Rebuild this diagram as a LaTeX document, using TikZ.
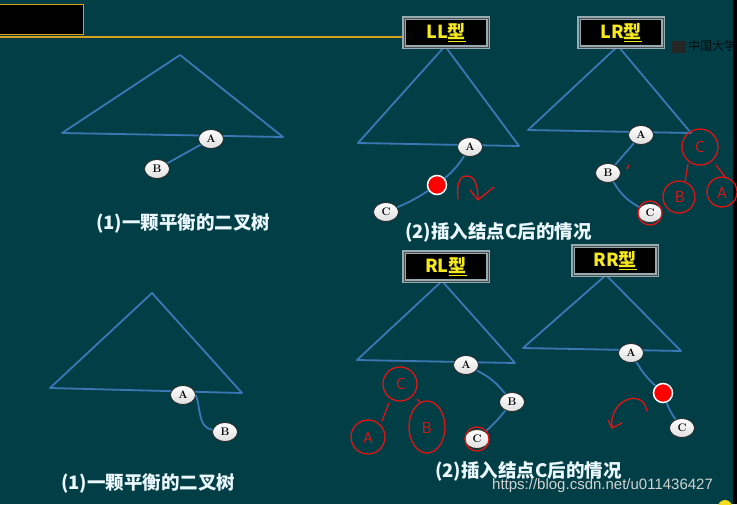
\documentclass[tikz,border=0pt]{standalone}
\usepackage{fontspec}
\newfontfamily\cjk{Noto Sans CJK SC}
\newfontfamily\wm{Liberation Sans}
\usetikzlibrary{shapes.geometric,arrows.meta}
\definecolor{bg}{RGB}{2,62,70}
\definecolor{tri}{RGB}{58,120,181}
\definecolor{gold}{RGB}{214,160,30}
\definecolor{ylw}{RGB}{245,232,30}
\definecolor{scrib}{RGB}{225,20,20}
\definecolor{boxedge}{RGB}{150,170,178}
\tikzset{
  trishape/.style={draw=tri, line width=1.8pt, line join=round},
  edge/.style={draw=tri, line width=1.8pt},
  vnode/.style={ellipse, draw=gray!30!black, line width=0.8pt, inner sep=0pt,
    minimum width=25pt, minimum height=19pt, top color=white, bottom color=gray!25,
    font=\bfseries\fontsize{11}{11}\selectfont},
  reddot/.style={circle, fill=red, draw=white, line width=1.5pt, minimum size=19pt, inner sep=0pt},
  typebox/.style={fill=black, draw=boxedge, line width=2pt, double=black!70, double distance=0.6pt,
    minimum width=84pt, minimum height=29pt, inner sep=0pt,
    text=ylw, font=\cjk\bfseries\fontsize{18}{18}\selectfont},
  caption/.style={text=white!92!cyan, font=\cjk\bfseries\fontsize{18.5}{19}\selectfont, inner sep=0pt},
  scribble/.style={draw=scrib, line width=1.3pt, line cap=round, line join=round},
  scribtext/.style={text=scrib, font=\sffamily\fontsize{16}{16}\selectfont, inner sep=0pt},
}
\begin{document}
\begin{tikzpicture}[x=1pt,y=-1pt]
\fill[bg] (0,0) rectangle (737,504);
\useasboundingbox (0,0) rectangle (737,504);
\fill[black] (733,0) rectangle (737,504);
% header
\filldraw[fill=black, draw=gold, line width=1pt] (-2,4) rectangle (83,34);
\draw[gold, line width=1.3pt] (0,37) -- (404,37);
\fill[black!85] (672,41) rectangle (686,53);
\node[text=black!80!bg, font=\cjk\fontsize{12}{12}\selectfont, anchor=west, inner sep=0pt] (zg) at (688,46) {中国大学};

% triangles
\draw[trishape] (180,55) -- (62,133) -- (283,137) -- cycle;
\draw[trishape] (445,46) -- (358,143) -- (519,146) -- cycle;
\draw[trishape] (618,46) -- (528,130) -- (691,133) -- cycle;
\draw[trishape] (152,293) -- (50,388) -- (242,393) -- cycle;
\draw[trishape] (442,281) -- (357,360) -- (515,363) -- cycle;
\draw[trishape] (606,275) -- (523,348) -- (681,351) -- cycle;

% type boxes
\node[typebox] (LL) at (446,32.5) {LL\underline{型}};
\node[typebox] (LR) at (621,32.5) {LR\underline{型}};
\node[typebox] (RL) at (446,266.5) {RL\underline{型}};
\node[typebox] (RR) at (615,260.5) {RR\underline{型}};

% tree 1
\node[vnode] (A1) at (211,139) {A};
\node[vnode] (B1) at (157,169) {B};
\draw[edge] (A1) -- (B1);
% LL
\node[vnode] (A2) at (470,147) {A};
\node[reddot] (R2) at (437,185) {};
\node[vnode] (C2) at (386,212) {C};
\draw[edge] (A2) to[bend left=8] (R2);
\draw[edge] (R2) to[bend left=5] (C2);
% LR
\node[vnode] (A3) at (641,135) {A};
\node[vnode] (B3) at (608,173) {B};
\node[vnode] (C3) at (650,213) {C};
\draw[edge] (A3) -- (B3);
\draw[edge] (B3) to[bend right=15] (C3);
% tree 4
\node[vnode] (A4) at (183,395) {A};
\node[vnode] (B4) at (225,432) {B};
\draw[edge] (A4.east) to[out=-70,in=170] (B4);
% RL
\node[vnode] (A5) at (466,365) {A};
\node[vnode] (B5) at (512,402) {B};
\node[vnode] (C5) at (477,439) {C};
\draw[edge] (A5) to[bend left=12] (B5);
\draw[edge] (B5) to[bend left=5] (C5);
% RR
\node[vnode] (A6) at (631,353) {A};
\node[reddot] (R6) at (663,393) {};
\node[vnode] (C6) at (682,428) {C};
\draw[edge] (A6) to[bend right=8] (R6);
\draw[edge] (R6) to[bend right=8] (C6);

% captions
\node[caption, anchor=west] (cap1) at (96,223) {(1)一颗平衡的二叉树};
\node[caption, anchor=west] (cap2) at (405,232) {(2)插入结点C后的情况};
\node[caption, anchor=west] (cap3) at (61,483) {(1)一颗平衡的二叉树};
\node[caption, anchor=west] (cap4) at (435,471) {(2)插入结点C后的情况};
\node[text=gray!35, font=\wm\fontsize{15}{15}\selectfont, anchor=west, inner sep=0pt] (wmk) at (492,486) {https://blog.csdn.net/u011436427};

% red scribbles
% LL rotation arrow
\draw[scribble] (458,199) .. controls (456,180) and (462,175) .. (468,176) .. controls (476,177) and (478,188) .. (478,199);
\draw[scribble] (470,190) -- (478,200) -- (494,187);
% LR
\draw[scribble] (C3) circle (12pt);
\draw[scribble] (700,147) circle (18pt);
\node[scribtext] (t1) at (700,147) {C};
\draw[scribble] (679,197) circle (16pt);
\node[scribtext] (t2) at (680,197) {B};
\draw[scribble] (722,192) circle (15pt);
\node[scribtext] (t3) at (722,193) {A};
\draw[scribble] (688,164) -- (685,182);
\draw[scribble] (716,165) -- (726,178);
\draw[scribble] (629,165) -- (627,169);
% RL
\draw[scribble] (C5) circle (12pt);
\draw[scribble] (400,384) circle (17pt);
\node[scribtext] (t4) at (401,384) {C};
\draw[scribble] (427,427) ellipse (18pt and 26pt);
\node[scribtext] (t5) at (427,428) {B};
\draw[scribble] (368,437) circle (17pt);
\node[scribtext] (t6) at (368,438) {A};
\draw[scribble] (417,399) -- (420,402);
\draw[scribble] (389,403) -- (382,421);
% RR rotation arrow
\draw[scribble] (647,411) .. controls (645,400) and (637,397) .. (629,399) .. controls (618,402) and (610,415) .. (612,427);
\draw[scribble] (608,420) -- (612,428) -- (622,423);
% yellow dot bottom right
\fill[ylw!90!orange] (725,507) circle (7pt);
\end{tikzpicture}
\end{document}
